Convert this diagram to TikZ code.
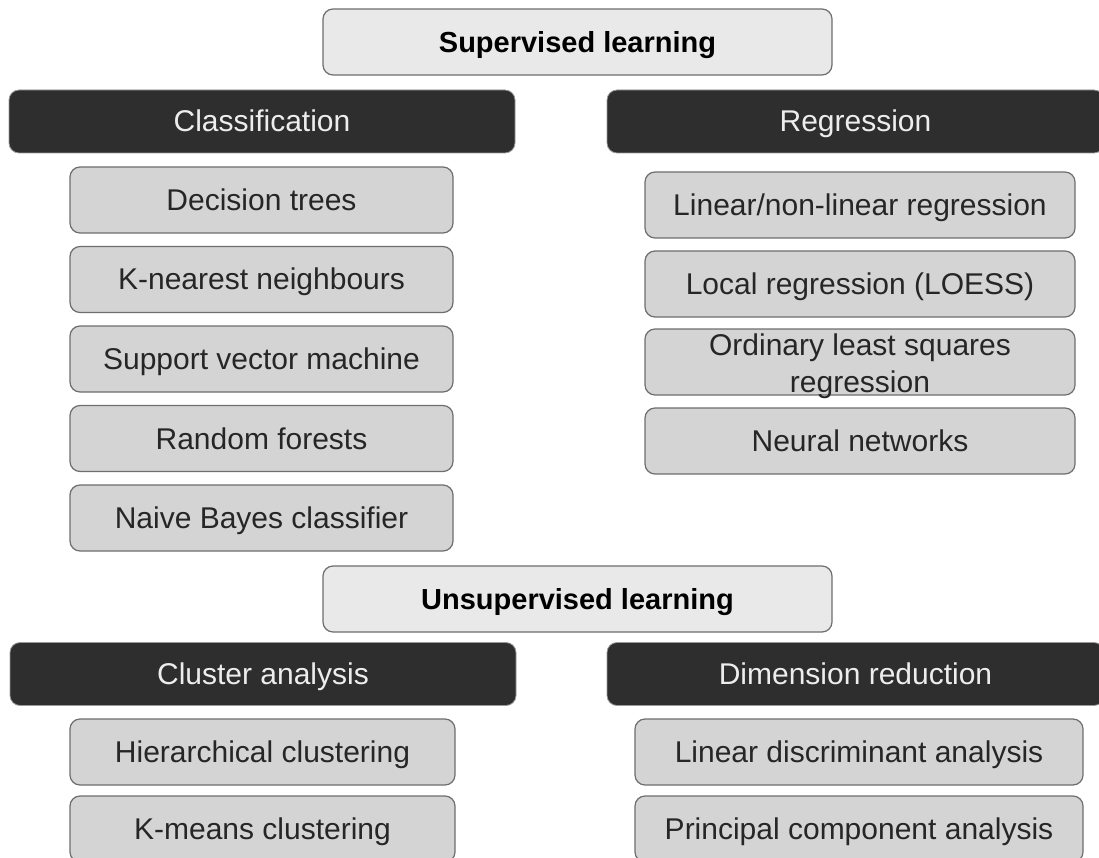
\documentclass[tikz,border=0pt]{standalone}
\usepackage{fontspec}
\setmainfont{Liberation Sans}
\usepackage{tikz}
\usetikzlibrary{positioning}
\usepackage{xcolor}
\definecolor{topfill}{HTML}{E9E9E9}
\definecolor{headfill}{HTML}{2E2E2E}
\definecolor{itemfill}{HTML}{D4D4D4}
\definecolor{edgegrey}{HTML}{6E6E6E}

\begin{document}
\begin{tikzpicture}[x=1pt,y=-1pt,
  title/.style={draw=edgegrey,line width=1.2pt,fill=topfill,rounded corners=10pt,
    minimum width=509pt,minimum height=66pt,text height=21pt,text depth=0pt,
    font=\fontsize{29}{33}\selectfont\bfseries},
  head/.style={draw=edgegrey!70,line width=0.8pt,fill=headfill,rounded corners=10pt,
    minimum height=63pt,text height=21pt,text depth=0pt,
    text=white!93!black,font=\fontsize{30}{33}\selectfont},
  item/.style={draw=edgegrey,line width=1.2pt,fill=itemfill,rounded corners=10pt,
    minimum height=66pt,text height=21pt,text depth=0pt,
    text=black!85,align=center,font=\fontsize{30}{34}\selectfont}]
\useasboundingbox (0,0) rectangle (1099,858);
\fill[white] (0,0) rectangle (1099,858);
% supervised part
\node[title] (sup) at (577.5,42) {Supervised learning};
\node[head,minimum width=506pt] (cls) at (262,121.5) {Classification};
\node[head,minimum width=497pt] (reg) at (855.5,121.5) {Regression};
\node[item,minimum width=383pt] (dt) at (261.5,200) {Decision trees};
\node[item,minimum width=383pt] (knn) at (261.5,279.5) {K-nearest neighbours};
\node[item,minimum width=383pt] (svm) at (261.5,359) {Support vector machine};
\node[item,minimum width=383pt] (rf) at (261.5,438.5) {Random forests};
\node[item,minimum width=383pt] (nb) at (261.5,518) {Naive Bayes classifier};
\node[item,minimum width=430pt] (lin) at (860,205) {Linear/non-linear regression};
\node[item,minimum width=430pt] (loess) at (860,284) {Local regression (LOESS)};
\node[item,minimum width=430pt,text height=,text depth=,inner ysep=0pt,
  font=\fontsize{30}{37}\selectfont] (ols) at (860,362) {};
\node[align=center,inner sep=0pt,text=black!85,font=\fontsize{30}{37}\selectfont]
  (olstext) at (860,366) {Ordinary least squares\\regression};
\node[item,minimum width=430pt] (nn) at (860,441) {Neural networks};
% unsupervised part
\node[title] (unsup) at (577.5,599) {Unsupervised learning};
\node[head,minimum width=506pt] (clu) at (263,674) {Cluster analysis};
\node[head,minimum width=497pt] (dim) at (855.5,674) {Dimension reduction};
\node[item,minimum width=385pt] (hc) at (262.5,752) {Hierarchical clustering};
\node[item,minimum width=385pt] (km) at (262.5,829) {K-means clustering};
\node[item,minimum width=448pt] (lda) at (859,752) {Linear discriminant analysis};
\node[item,minimum width=448pt] (pca) at (859,829) {Principal component analysis};
\end{tikzpicture}
\end{document}
